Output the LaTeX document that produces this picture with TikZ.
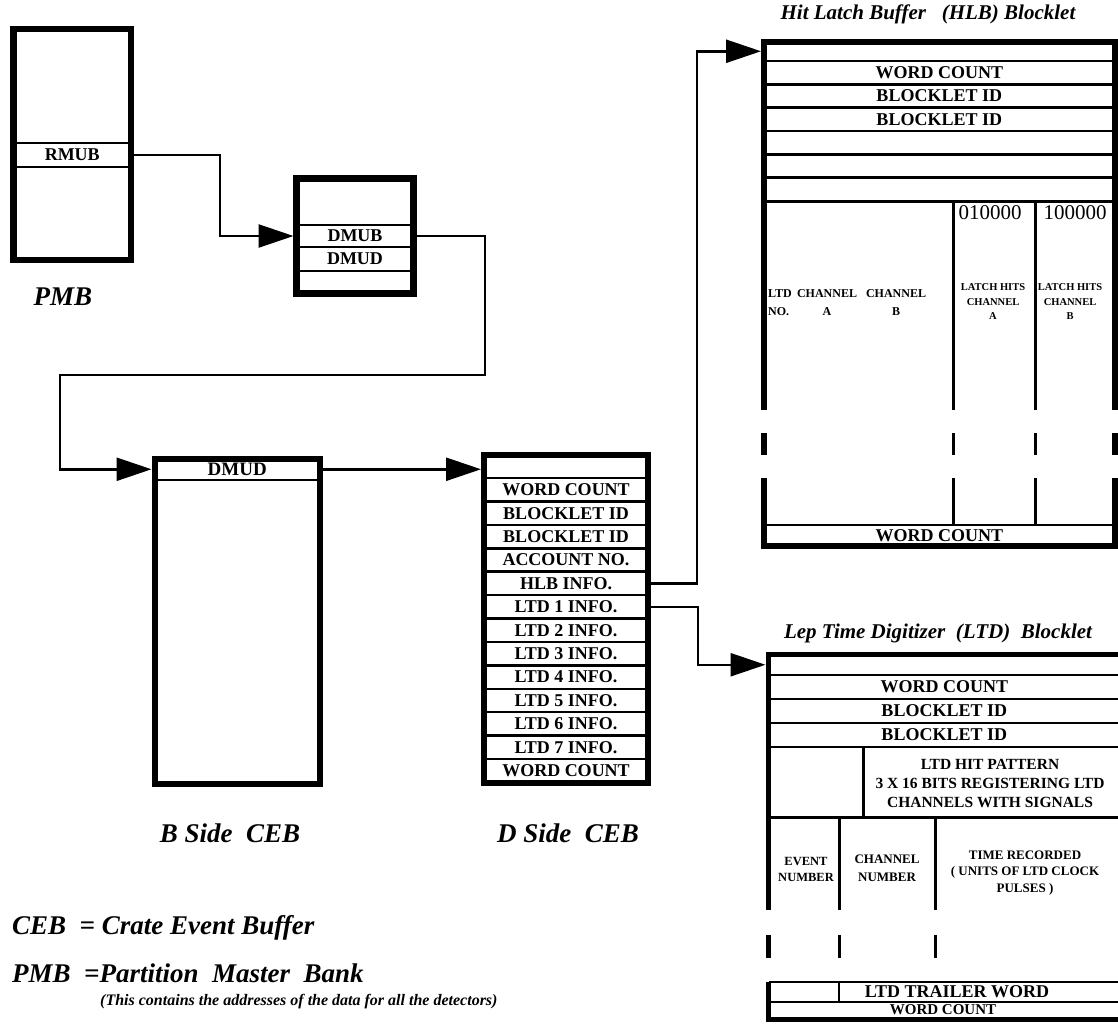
\documentclass[tikz,border=0pt]{standalone}
\usepackage{fontspec}
\setmainfont{Liberation Serif}
\usepackage{tikz}
\usetikzlibrary{positioning,arrows.meta}

\begin{document}
\begin{tikzpicture}[x=1pt, y=-1pt,
  cell/.style={draw, line width=2.5pt, inner sep=0pt, outer sep=0pt, font=\bfseries\fontsize{18}{20}\selectfont},
  drow/.style={cell, minimum width=164pt, minimum height=23.42pt},
  hrow/.style={cell, minimum width=350.5pt, minimum height=23.33pt},
  lrow/.style={cell, minimum width=351.5pt, minimum height=24pt},
  frame/.style={draw, line width=6pt},
  link/.style={line width=2.5pt, -{Triangle[length=35pt,width=23pt]}, shorten >=3pt},
  caption/.style={font=\bfseries\itshape\fontsize{27}{30}\selectfont},
  title/.style={font=\bfseries\itshape\fontsize{21}{22}\selectfont},
  small/.style={font=\bfseries\fontsize{12}{18}\selectfont, align=center, inner sep=0pt}]
\useasboundingbox (0,0) rectangle (1118,1029);

% PMB
\node[cell, minimum width=117.5pt, minimum height=24pt] (rmub) at (72.25,155) {RMUB};
\draw[frame, line width=6.5pt] (13.5,29) rectangle (131,260);
\node[caption] (pmb) at (63,297) {PMB};

% DMUB / DMUD box
\node[cell, minimum width=117pt, minimum height=22pt] (dmub) at (355,236) {DMUB};
\node[cell, minimum width=117pt, minimum height=24pt, below=0pt of dmub] (dmud) {DMUD};
\draw[frame, line width=7pt] (296.5,178) rectangle (413.5,293);

% B side CEB
\node[cell, minimum width=165.5pt, minimum height=21.5pt, font=\bfseries\fontsize{19}{20}\selectfont] (bdmud) at (237.25,469.25) {DMUD};
\draw[frame] (154.5,458.5) rectangle (320,784);
\node[caption] (bside) at (230,833) {B Side~~CEB};

% D side CEB
\node[drow, minimum height=23.5pt] (dtop) at (566,466.25) {};
\node[drow, below=0pt of dtop] (dwc) {WORD COUNT};
\node[drow, below=0pt of dwc] (did1) {BLOCKLET ID};
\node[drow, below=0pt of did1] (did2) {BLOCKLET ID};
\node[drow, below=0pt of did2] (dacc) {ACCOUNT NO.};
\node[drow, below=0pt of dacc] (dhlb) {HLB INFO.};
\node[drow, below=0pt of dhlb] (dltd1) {LTD 1 INFO.};
\node[drow, below=0pt of dltd1] (dltd2) {LTD 2 INFO.};
\node[drow, below=0pt of dltd2] (dltd3) {LTD 3 INFO.};
\node[drow, below=0pt of dltd3] (dltd4) {LTD 4 INFO.};
\node[drow, below=0pt of dltd4] (dltd5) {LTD 5 INFO.};
\node[drow, below=0pt of dltd5] (dltd6) {LTD 6 INFO.};
\node[drow, below=0pt of dltd6] (dltd7) {LTD 7 INFO.};
\node[drow, below=0pt of dltd7] (dwc2) {WORD COUNT};
\draw[frame] (484,454.5) rectangle (648,782.5);
\node[caption] (dside) at (568,833) {D Side~~CEB};

% HLB blocklet
\node[title] (hlbtitle) at (928,14) {Hit Latch Buffer~~~(HLB) Blocklet};
\node[hrow, minimum height=19.5pt] (htop) at (939.25,51.25) {};
\node[hrow, below=0pt of htop] (hwc) {WORD COUNT};
\node[hrow, below=0pt of hwc] (hid1) {BLOCKLET ID};
\node[hrow, below=0pt of hid1] (hid2) {BLOCKLET ID};
\node[hrow, below=0pt of hid2] (he1) {};
\node[hrow, below=0pt of he1] (he2) {};
\node[hrow, below=0pt of he2] (he3) {};
\draw[frame] (764,201) -- (764,41.5) -- (1114.5,41.5) -- (1114.5,201);
\draw[line width=3pt] (764,201) -- (1114.5,201);
\foreach \x/\w in {764/6pt, 953/3pt, 1035/3pt, 1114.5/6pt}
  \draw[line width=\w] (\x,201) -- (\x,410) (\x,433) -- (\x,455) (\x,478) -- (\x,525);
\node[hrow, minimum height=21pt] (hwc2) at (939.25,535.5) {WORD COUNT};
\draw[frame] (764,525) -- (764,546) -- (1114.5,546) -- (1114.5,525);
\node[font=\fontsize{21}{22}\selectfont] (pat1) at (990,213) {010000};
\node[font=\fontsize{21}{22}\selectfont] (pat2) at (1075,213) {100000};
\node[small, align=left, anchor=west] (ltdno) at (768,303) {LTD\\NO.};
\node[small] (cha) at (827,303) {CHANNEL\\A};
\node[small] (chb) at (896,303) {CHANNEL\\B};
\node[small, font=\bfseries\fontsize{10.5}{14.5}\selectfont] (lha) at (993,302) {LATCH HITS\\CHANNEL\\A};
\node[small, font=\bfseries\fontsize{10.5}{14.5}\selectfont] (lhb) at (1070,302) {LATCH HITS\\CHANNEL\\B};

% LTD blocklet
\node[title] (ltdtitle) at (938,633) {Lep Time Digitizer~~(LTD)~~Blocklet};
\node[lrow, minimum height=20.5pt] (ltop) at (944.25,664.75) {};
\node[lrow, below=0pt of ltop] (lwc) {WORD COUNT};
\node[lrow, below=0pt of lwc] (lid1) {BLOCKLET ID};
\node[lrow, below=0pt of lid1] (lid2) {BLOCKLET ID};
\draw[frame, line width=5pt] (1130,654.5) -- (768.5,654.5) -- (768.5,910);
\draw[frame, line width=5pt] (768.5,935) -- (768.5,958);
\draw[frame, line width=5pt] (768.5,982) -- (768.5,1019) -- (1130,1019);
\draw[line width=3pt] (863,747) -- (863,817);
\draw[line width=3pt] (768.5,817) -- (1130,817);
\foreach \x in {839, 935}
  \draw[line width=3pt] (\x,817) -- (\x,910) (\x,935) -- (\x,958);
\draw[line width=2.5pt] (768.5,982) -- (1130,982) (768.5,1002) -- (1130,1002) (839,982) -- (839,1002);
\node[font=\bfseries\fontsize{15.5}{19}\selectfont, align=center] (hitpat) at (990,783) {LTD HIT PATTERN\\3 X 16 BITS REGISTERING LTD\\CHANNELS WITH SIGNALS};
\node[small, font=\bfseries\fontsize{12.5}{16}\selectfont] (evt) at (806,869) {EVENT\\NUMBER};
\node[small, font=\bfseries\fontsize{13}{18}\selectfont] (chn) at (887,868) {CHANNEL\\NUMBER};
\node[small, font=\bfseries\fontsize{13}{16.5}\selectfont] (tim) at (1025,873) {TIME RECORDED\\( UNITS OF LTD CLOCK\\PULSES )};
\node[font=\bfseries\fontsize{18}{20}\selectfont, inner sep=0pt] (trailer) at (957,992) {LTD TRAILER WORD};
\node[font=\bfseries\fontsize{15}{16}\selectfont, inner sep=0pt] (lwc2) at (943,1009.5) {WORD COUNT};

% legend
\node[caption, anchor=west, inner sep=0pt] (cebdef) at (12,928) {CEB~~= Crate Event Buffer};
\node[caption, anchor=west, inner sep=0pt] (pmbdef) at (12,973) {PMB~~=Partition~~Master~~Bank};
\node[font=\bfseries\itshape\fontsize{16}{18}\selectfont, anchor=west, inner sep=0pt] (pmbnote) at (100,1002) {(This contains the addresses of the data for all the detectors)};

% connectors
\coordinate (bend1) at (485,375);
\coordinate (bend2) at (60,375);
\draw[link] (rmub.east) -- ++(89,0) |- (dmub.west);
\draw[link] (dmub.east) -| (bend1) -- (bend2) |- (bdmud.west);
\draw[link] (bdmud.east) -- (bdmud.east -| dtop.west);
\draw[link] (dhlb.east) -- ++(49,0) |- (htop.west);
\draw[link] (dltd1.east) -- ++(50,0) |- (ltop.west);
\end{tikzpicture}
\end{document}
